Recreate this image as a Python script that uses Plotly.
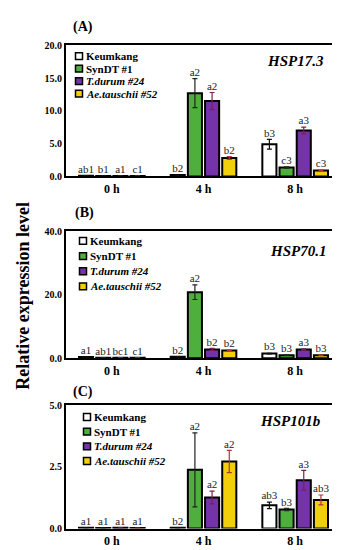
import plotly.graph_objects as go
from plotly.subplots import make_subplots

categories = ["0 h", "4 h", "8 h"]
series = ["Keumkang", "SynDT #1", "<i>T.durum #24</i>", "<i>Ae.tauschii #52</i>"]
colors = ["#FFFFFF", "#4FAF3C", "#7433A8", "#F2CF0A"]
err_colors = ["#111111", "#222222", "#7A2050", "#B83040"]

genes = ["HSP17.3", "HSP70.1", "HSP101b"]
panel_labels = ["(A)", "(B)", "(C)"]

# values[panel][series][category]
values = [
    [[0.1, 0.2, 4.9], [0.05, 12.7, 1.35], [0.05, 11.5, 7.0], [0.05, 2.8, 0.9]],
    [[0.4, 0.5, 1.5], [0.2, 20.8, 1.0], [0.2, 2.8, 2.8], [0.15, 2.5, 1.0]],
    [[0.03, 0.03, 0.94], [0.02, 2.38, 0.77], [0.03, 1.26, 1.96], [0.02, 2.72, 1.16]],
]
errors = [
    [[0.0, 0.0, 0.75], [0.0, 2.2, 0.1], [0.0, 1.3, 0.5], [0.0, 0.2, 0.1]],
    [[0.0, 0.0, 0.1], [0.0, 2.3, 0.1], [0.0, 0.3, 0.2], [0.0, 0.1, 0.1]],
    [[0.0, 0.0, 0.13], [0.0, 1.5, 0.05], [0.0, 0.26, 0.4], [0.0, 0.45, 0.2]],
]
letters = [
    [["ab1", "b2", "b3"], ["b1", "a2", "c3"], ["a1", "a2", "a3"], ["c1", "b2", "c3"]],
    [["a1", "b2", "b3"], ["ab1", "a2", "b3"], ["bc1", "b2", "a3"], ["c1", "b2", "b3"]],
    [["a1", "b2", "ab3"], ["a1", "a2", "b3"], ["a1", "a2", "a3"], ["a1", "a2", "ab3"]],
]
y_ranges = [[0, 20], [0, 40], [0, 5]]
y_ticks = [[0, 5, 10, 15, 20], [0, 20, 40], [0, 2.5, 5]]

SERIF = "Liberation Serif, Times New Roman, serif"
W, H = 340, 550

fig = make_subplots(rows=3, cols=1)

for p in range(3):
    for s in range(4):
        fig.add_trace(go.Bar(
            x=categories, y=values[p][s], name=series[s],
            marker=dict(color=colors[s], line=dict(color="#000000", width=2)),
            error_y=dict(type="data", array=errors[p][s], color=err_colors[s],
                         thickness=1.2, width=2.5, visible=True),
            offsetgroup=str(s), showlegend=False,
        ), row=p + 1, col=1)
    for s in range(4):
        tops = [v + e for v, e in zip(values[p][s], errors[p][s])]
        fig.add_trace(go.Scatter(
            x=categories, y=tops, mode="text", text=letters[p][s],
            textposition="top center", offsetgroup=str(s),
            textfont=dict(family=SERIF, size=11, color="#222222"),
            showlegend=False, hoverinfo="skip",
        ), row=p + 1, col=1)

# plot-area geometry in pixels (top, bottom)
panel_px = [(32, 166), (222, 352), (400, 526)]
x_px = (58, 333)
domains = [[1 - b / H, 1 - t / H] for t, b in panel_px]
x_dom = [x_px[0] / W, x_px[1] / W]

layout_upd = {}
for p in range(3):
    xa = "xaxis" if p == 0 else f"xaxis{p + 1}"
    ya = "yaxis" if p == 0 else f"yaxis{p + 1}"
    layout_upd[xa] = dict(domain=x_dom, showline=True, linewidth=2, linecolor="#000000",
                          mirror=True, ticks="", showgrid=False,
                          tickfont=dict(family=SERIF, size=12, color="#000000", weight="bold"))
    layout_upd[ya] = dict(domain=domains[p], range=y_ranges[p], tickvals=y_ticks[p],
                          tickformat=".1f", showline=True, linewidth=2, linecolor="#000000",
                          mirror=True, ticks="", showgrid=False, zeroline=False,
                          tickfont=dict(family=SERIF, size=10, color="#000000", weight="bold"))
fig.update_layout(**layout_upd)

# legend rows (pixel positions inside each panel)
legend_first = [43, 232, 412]
legend_step = [12.8, 15.5, 15.0]
legend_sq_x = [71, 75, 79]
sq = 3.5
for p in range(3):
    for s in range(4):
        yc = legend_first[p] + s * legend_step[p]
        xc = legend_sq_x[p]
        fig.add_shape(type="rect", xref="paper", yref="paper",
                      x0=(xc - sq) / W, x1=(xc + sq) / W,
                      y0=1 - (yc + sq) / H, y1=1 - (yc - sq) / H,
                      fillcolor=colors[s], line=dict(color="#000000", width=1.5))
        fig.add_annotation(text=f"<b>{series[s]}</b>", xref="paper", yref="paper",
                           x=(xc + sq + 1.5) / W, y=1 - yc / H, xanchor="left", yanchor="middle",
                           showarrow=False, font=dict(family=SERIF, size=11, color="#000000"))

gene_pos = [(318, 48), (320, 242), (315, 416)]
label_pos = [(63, 13), (65, 203), (63, 386)]
for p in range(3):
    gx, gy = gene_pos[p]
    fig.add_annotation(text=f"<b><i>{genes[p]}</i></b>", xref="paper", yref="paper",
                       x=gx / W, y=1 - gy / H, xanchor="right", yanchor="middle",
                       showarrow=False, font=dict(family=SERIF, size=15, color="#000000"))
    lx, ly = label_pos[p]
    fig.add_annotation(text=f"<b>{panel_labels[p]}</b>", xref="paper", yref="paper",
                       x=lx / W, y=1 - ly / H, xanchor="left", yanchor="middle",
                       showarrow=False, font=dict(family=SERIF, size=14, color="#000000"))

fig.add_annotation(text="<b>Relative expression level</b>", xref="paper", yref="paper",
                   x=15 / W, y=1 - 288 / H, xanchor="center", yanchor="middle", textangle=-90,
                   showarrow=False, font=dict(family=SERIF, size=18, color="#000000"))

fig.update_layout(
    width=W, height=H, margin=dict(l=0, r=0, t=0, b=0),
    paper_bgcolor="#FFFFFF", plot_bgcolor="#FFFFFF",
    barmode="group", bargap=0.25, bargroupgap=0.18,
    scattermode="group", scattergap=0.25,
)

fig.write_html("out.html")
